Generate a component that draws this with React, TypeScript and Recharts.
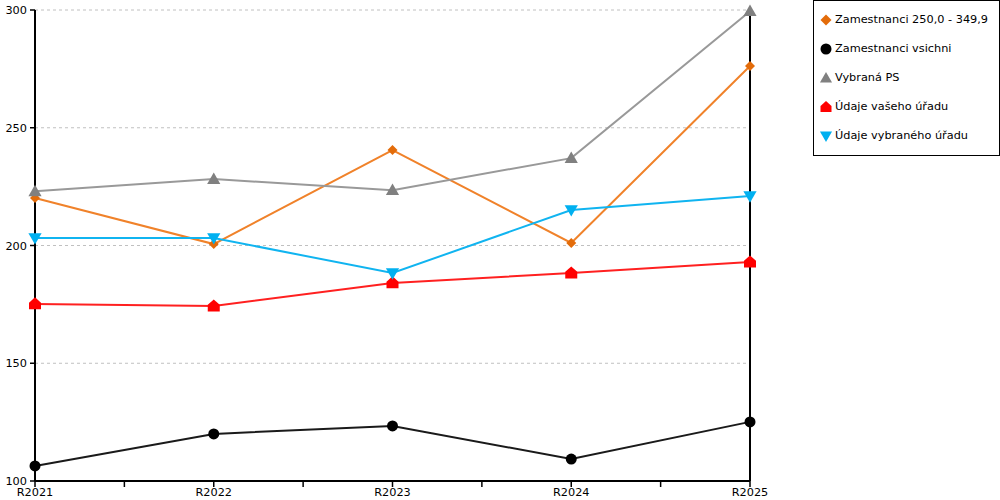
import React from 'react';
import { LineChart, Line, XAxis, YAxis, CartesianGrid, Legend, ReferenceLine } from 'recharts';

const categories = ['R2021', 'R2022', 'R2023', 'R2024', 'R2025'];
const zam250 = [220.2, 200.6, 240.5, 201.1, 276.2];
const zamVsichni = [106.4, 120.0, 123.4, 109.3, 125.1];
const vybranaPS = [223.0, 228.2, 223.5, 237.1, 299.5];
const udajeVaseho = [175.2, 174.3, 184.1, 188.3, 193.0];
const udajeVybraneho = [203.2, 203.2, 188.3, 215.1, 221.0];
const yTicks = [100, 150, 200, 250, 300];
const xTicks = [0, 0.5, 1, 1.5, 2, 2.5, 3, 3.5, 4];

const data = categories.map((c, i) => ({
  x: i,
  name: c,
  zam250: zam250[i],
  zamVsichni: zamVsichni[i],
  vybranaPS: vybranaPS[i],
  udajeVaseho: udajeVaseho[i],
  udajeVybraneho: udajeVybraneho[i],
}));

type Shape = 'diamond' | 'circle' | 'triUp' | 'house' | 'triDown';

const shapePath = (shape: Shape, cx: number, cy: number, s: number) => {
  switch (shape) {
    case 'diamond':
      return `M${cx},${cy - s * 0.5}L${cx + s * 0.5},${cy}L${cx},${cy + s * 0.5}L${cx - s * 0.5},${cy}Z`;
    case 'triUp':
      return `M${cx},${cy - s * 0.55}L${cx + s * 0.55},${cy + s * 0.4}L${cx - s * 0.55},${cy + s * 0.4}Z`;
    case 'triDown':
      return `M${cx - s * 0.55},${cy - s * 0.4}L${cx + s * 0.55},${cy - s * 0.4}L${cx},${cy + s * 0.55}Z`;
    case 'house':
      return `M${cx},${cy - s * 0.55}L${cx + s * 0.5},${cy - s * 0.1}L${cx + s * 0.5},${cy + s * 0.45}L${cx - s * 0.5},${cy + s * 0.45}L${cx - s * 0.5},${cy - s * 0.1}Z`;
    default:
      return '';
  }
};

const Marker = ({ shape, cx, cy, fill, s }: { shape: Shape; cx: number; cy: number; fill: string; s: number }) => {
  if (shape === 'circle') return <circle cx={cx} cy={cy} r={s * 0.5} fill={fill} />;
  return <path d={shapePath(shape, cx, cy, s)} fill={fill} />;
};

const makeDot = (shape: Shape, fill: string, s: number) => (props: any) => {
  const { cx, cy, index } = props;
  if (cx == null || cy == null) return <g key={index} />;
  return <Marker key={index} shape={shape} cx={cx} cy={cy} fill={fill} s={s} />;
};

const seriesDefs: { key: string; label: string; line: string; marker: string; shape: Shape; size: number }[] = [
  { key: 'zam250', label: 'Zamestnanci 250,0 - 349,9', line: '#f0822a', marker: '#e36c0a', shape: 'diamond', size: 10 },
  { key: 'zamVsichni', label: 'Zamestnanci vsichni', line: '#1a1a1a', marker: '#000000', shape: 'circle', size: 11 },
  { key: 'vybranaPS', label: 'Vybraná PS', line: '#999999', marker: '#808080', shape: 'triUp', size: 12 },
  { key: 'udajeVaseho', label: 'Údaje vašeho úřadu', line: '#ff2020', marker: '#ff0000', shape: 'house', size: 12 },
  { key: 'udajeVybraneho', label: 'Údaje vybraného úřadu', line: '#10b4f0', marker: '#00b0f0', shape: 'triDown', size: 12 },
];

const FONT = 'DejaVu Sans, Verdana, sans-serif';

const LegendBox = () => (
  <div
    style={{
      border: '1px solid #000',
      background: '#fff',
      boxSizing: 'border-box',
      width: 187,
      height: 156,
      padding: '4px 0 0 5px',
      fontFamily: FONT,
      fontSize: 11.3,
      color: '#000',
    }}
  >
    {seriesDefs.map((s) => (
      <div key={s.key} style={{ display: 'flex', alignItems: 'center', height: 29 }}>
        <svg width={14} height={14} style={{ marginRight: 2 }}>
          <Marker shape={s.shape} cx={7} cy={7} fill={s.marker} s={11} />
        </svg>
        <span>{s.label}</span>
      </div>
    ))}
  </div>
);

const tickStyle = { fontFamily: FONT, fontSize: 11.3, fill: '#000' };

export default function App() {
  return (
    <div style={{ position: 'absolute', left: 0, top: 0, width: 1000, height: 500, background: '#fff' }}>
      <LineChart width={1000} height={500} data={data} margin={{ top: 10, right: 250, bottom: 0, left: 0 }}>
        <CartesianGrid vertical={false} stroke="#c0c0c0" strokeDasharray="3 3" />
        <XAxis
          dataKey="x"
          type="number"
          domain={[0, 4]}
          ticks={xTicks}
          interval={0}
          height={19}
          tickFormatter={(v: number) => (Number.isInteger(v) ? categories[v] : '')}
          tick={tickStyle}
          axisLine={{ stroke: '#000', strokeWidth: 2 }}
          tickLine={{ stroke: '#000', strokeWidth: 1.5 }}
          tickSize={6}
          tickMargin={1}
        />
        <YAxis
          domain={[100, 300]}
          ticks={yTicks}
          width={35}
          tick={tickStyle}
          axisLine={{ stroke: '#000', strokeWidth: 2 }}
          tickLine={{ stroke: '#000', strokeWidth: 1.5 }}
          tickSize={5}
          tickMargin={3}
          interval={0}
        />
        <ReferenceLine x={4} stroke="#000" strokeWidth={2} />
        {seriesDefs.map((s) => (
          <Line
            key={s.key}
            type="linear"
            dataKey={s.key}
            name={s.label}
            stroke={s.line}
            strokeWidth={2}
            dot={makeDot(s.shape, s.marker, s.size)}
            activeDot={false}
            isAnimationActive={false}
          />
        ))}
        <Legend
          layout="vertical"
          align="center"
          verticalAlign="middle"
          wrapperStyle={{ position: 'absolute', left: 813, top: 0, width: 187, height: 156, margin: 0, padding: 0 }}
          content={() => <LegendBox />}
        />
      </LineChart>
    </div>
  );
}
